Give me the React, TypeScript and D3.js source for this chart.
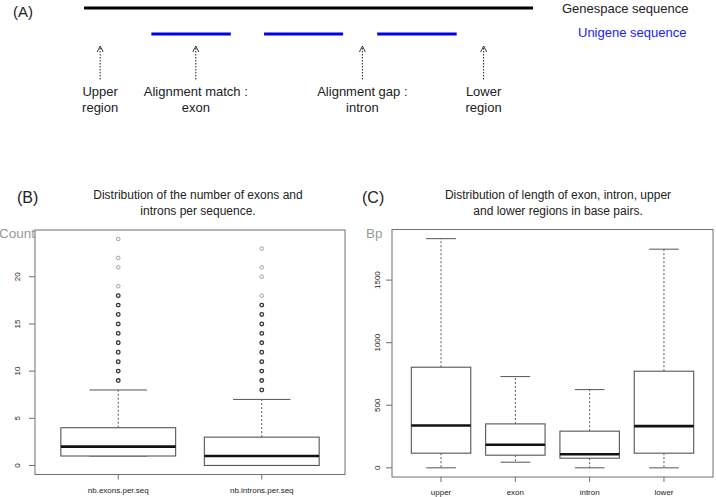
import * as d3 from "d3";

// panel A: schematic positions along the genespace (0..1000)
const genespace = [0, 1000];
const exonSegments = [
  [150, 327],
  [401, 577],
  [653, 830],
];
const arrowPos = [36, 249, 620, 890];
const arrowLabels = [
  ["Upper", "region"],
  ["Alignment match :", "exon"],
  ["Alignment gap :", "intron"],
  ["Lower", "region"],
];

// panel B: number of exons / introns per sequence
const countNames = ["nb.exons.per.seq", "nb.introns.per.seq"];
// [min, q1, median, q3, max whisker]
const countStats = [
  [1, 1, 2, 4, 8],
  [0, 0, 1, 3, 7],
];
const exonOutliers = [9, 10, 11, 12, 13, 14, 15, 16, 17, 18, 19, 21, 22, 24];
const intronOutliers = [8, 9, 10, 11, 12, 13, 14, 15, 16, 17, 18, 20, 21, 23];
const countOutliers = [exonOutliers, intronOutliers];
const denseUpTo = [18, 17];
const countTicks = [0, 5, 10, 15, 20];

// panel C: length in base pairs
const lengthNames = ["upper", "exon", "intron", "lower"];
const lengthStats = [
  [0, 117, 338, 804, 1831],
  [45, 101, 184, 351, 729],
  [0, 77, 109, 293, 625],
  [0, 117, 333, 772, 1747],
];
const lengthTicks = [0, 500, 1000, 1500];

const FONT = "'Liberation Sans', Arial, Helvetica, sans-serif";
const FRAME = "#6e6e6e";

type BoxProps = {
  left: number;
  right: number;
  top: number;
  bottom: number;
  names: string[];
  stats: number[][];
  outliers?: number[][];
  ticks: number[];
  title: string[];
  tag: string;
  tagX: number;
  ylab: string;
  ylabX: number;
  titleX: number;
  labelOffset: number;
};

function BoxPanel(p: BoxProps) {
  const n = p.names.length;
  const x = d3
    .scaleLinear()
    .domain([0.5 - 0.04 * n, n + 0.5 + 0.04 * n])
    .range([p.left, p.right]);
  const allVals = p.stats.flat().concat((p.outliers || []).flat());
  const lo = d3.min(allVals)!;
  const hi = d3.max(allVals)!;
  const pad = (hi - lo) * 0.04;
  const y = d3
    .scaleLinear()
    .domain([lo - pad, hi + pad])
    .range([p.bottom, p.top]);
  const half = x(1.4) - x(1);
  const capHalf = half / 2;

  return (
    <g fontFamily={FONT}>
      <text x={p.tagX} y={203} fontSize={16} fill="#222">
        {p.tag}
      </text>
      {p.title.map((t, i) => (
        <text key={i} x={p.titleX} y={199 + i * 16} fontSize={12} textAnchor="middle" fill="#222">
          {t}
        </text>
      ))}
      <text x={p.ylabX} y={238} fontSize={13.5} fill="#999">
        {p.ylab}
      </text>
      {/* y axis */}
      {p.ticks.map((t) => (
        <g key={t} transform={`translate(${p.left},${y(t)})`}>
          <line x1={-6} x2={0} stroke={FRAME} />
          <text
            transform={`translate(${-p.labelOffset},0) rotate(-90)`}
            textAnchor="middle"
            fontSize={8}
            fill="#222"
          >
            {t}
          </text>
        </g>
      ))}
      {/* x axis */}
      {p.names.map((name, i) => (
        <g key={name} transform={`translate(${x(i + 1)},${p.bottom})`}>
          <line y1={0} y2={5} stroke={FRAME} />
          <text y={18} textAnchor="middle" fontSize={8} fill="#222">
            {name}
          </text>
        </g>
      ))}
      {/* boxes */}
      {p.stats.map((s, i) => {
        const cx = x(i + 1);
        const [mn, q1, md, q3, mx] = s;
        return (
          <g key={i} stroke="#555">
            <line x1={cx} x2={cx} y1={y(q3)} y2={y(mx)} strokeDasharray="2,2" />
            <line x1={cx} x2={cx} y1={y(q1)} y2={y(mn)} strokeDasharray="2,2" />
            <line x1={cx - capHalf} x2={cx + capHalf} y1={y(mx)} y2={y(mx)} />
            <line x1={cx - capHalf} x2={cx + capHalf} y1={y(mn)} y2={y(mn)} />
            <rect
              x={cx - half}
              y={y(q3)}
              width={2 * half}
              height={y(q1) - y(q3)}
              fill="white"
              strokeWidth={1.1}
            />
            <line
              x1={cx - half}
              x2={cx + half}
              y1={y(md)}
              y2={y(md)}
              stroke="#111"
              strokeWidth={2.6}
            />
          </g>
        );
      })}
      {(p.outliers || []).map((vals, i) =>
        vals.map((v) => (
          <circle
            key={`${i}-${v}`}
            cx={x(i + 1)}
            cy={y(v)}
            r={1.8}
            fill="none"
            stroke={v <= denseUpTo[i] ? "#333" : "#888"}
            strokeWidth={v <= denseUpTo[i] ? 1.3 : 0.8}
          />
        ))
      )}
      <rect
        x={p.left}
        y={p.top}
        width={p.right - p.left}
        height={p.bottom - p.top}
        fill="none"
        stroke={FRAME}
      />
    </g>
  );
}

function Schematic() {
  const gx = d3.scaleLinear().domain(genespace).range([84, 533]);
  return (
    <g fontFamily={FONT}>
      <text x={13} y={17} fontSize={15} fill="#222">
        (A)
      </text>
      <line x1={gx(genespace[0])} x2={gx(genespace[1])} y1={8} y2={8} stroke="#000" strokeWidth={3} />
      <text x={562} y={13} fontSize={13} fill="#222">
        Genespace sequence
      </text>
      <text x={578} y={37} fontSize={13} fill="#1a1aff">
        Unigene sequence
      </text>
      {exonSegments.map(([a, b], i) => (
        <line key={i} x1={gx(a)} x2={gx(b)} y1={34} y2={34} stroke="#0000ee" strokeWidth={3} />
      ))}
      {arrowPos.map((a, i) => {
        const cx = gx(a);
        return (
          <g key={i}>
            <line x1={cx} x2={cx} y1={48} y2={80} stroke="#222" strokeDasharray="1.5,1.5" />
            <polyline
              points={`${cx - 3},${52} ${cx},${46} ${cx + 3},${52}`}
              fill="none"
              stroke="#222"
              strokeWidth={0.9}
            />
            {arrowLabels[i].map((t, j) => (
              <text key={j} x={cx} y={96 + j * 16} fontSize={13} textAnchor="middle" fill="#222">
                {t}
              </text>
            ))}
          </g>
        );
      })}
    </g>
  );
}

export default function App() {
  return (
    <svg
      width={716}
      height={497}
      style={{ position: "absolute", left: 0, top: 0, background: "white" }}
    >
      <Schematic />
      <BoxPanel
        left={35}
        right={345}
        top={230}
        bottom={474.5}
        names={countNames}
        stats={countStats}
        outliers={countOutliers}
        ticks={countTicks}
        title={["Distribution of the number of exons and", "introns per sequence."]}
        tag="(B)"
        tagX={17}
        ylab="Count"
        ylabX={-1}
        titleX={198}
        labelOffset={15}
      />
      <BoxPanel
        left={392}
        right={713}
        top={229.5}
        bottom={477}
        names={lengthNames}
        stats={lengthStats}
        ticks={lengthTicks}
        title={["Distribution of length of exon, intron, upper", "and lower regions in base pairs."]}
        tag="(C)"
        tagX={362}
        ylab="Bp"
        ylabX={366}
        titleX={558}
        labelOffset={12}
      />
    </svg>
  );
}
